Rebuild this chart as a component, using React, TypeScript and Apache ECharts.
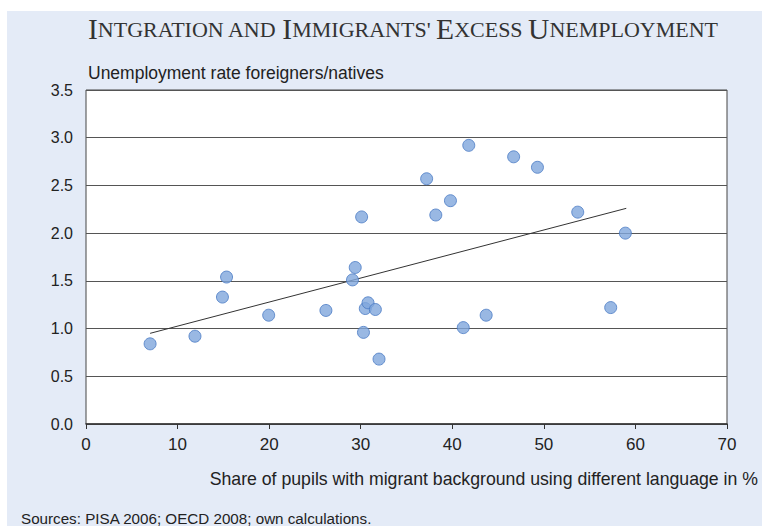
import React, { useEffect, useRef } from "react";
import * as echarts from "echarts";

const shareDifferentLanguage = [7.0, 11.9, 14.9, 15.35, 19.95, 26.2, 29.1, 29.4, 30.1, 30.3, 30.5, 30.8, 31.6, 32.0, 37.2, 38.2, 39.8, 41.2, 41.8, 43.7, 46.7, 49.3, 53.7, 57.3, 58.9];
const unemploymentRatio = [0.84, 0.92, 1.33, 1.54, 1.14, 1.19, 1.51, 1.64, 2.17, 0.96, 1.21, 1.27, 1.2, 0.68, 2.57, 2.19, 2.34, 1.01, 2.92, 1.14, 2.8, 2.69, 2.22, 1.22, 2.0];
const trendX = [7.0, 59.0];
const trendY = [0.95, 2.26];
const xTicks = [0, 10, 20, 30, 40, 50, 60, 70];
const yTicks = [0, 0.5, 1, 1.5, 2, 2.5, 3, 3.5];

const titleParts = [
  ["b", "I"], ["s", "NTGRATION AND "], ["b", "I"], ["s", "MMIGRANTS' "],
  ["b", "E"], ["s", "XCESS "], ["b", "U"], ["s", "NEMPLOYMENT"],
];
const yAxisTitle = "Unemployment rate foreigners/natives";
const xAxisTitle = "Share of pupils with migrant background using different language in %";
const sourceNote = "Sources: PISA 2006; OECD 2008; own calculations.";

export default function App() {
  const ref = useRef<HTMLDivElement>(null);
  useEffect(() => {
    if (!ref.current) return;
    const chart = echarts.init(ref.current, null, { renderer: "svg" });
    const sans = "'Liberation Sans', Arial, sans-serif";
    const serif = "'Liberation Serif', 'Times New Roman', serif";
    chart.setOption({
      animation: false,
      backgroundColor: "#ffffff",
      title: {
        text: titleParts.map(([k, t]) => `{${k}|${t}}`).join(""),
        left: 88,
        top: 14,
        padding: 0,
        textStyle: {
          fontWeight: "normal",
          rich: {
            b: { fontFamily: serif, fontSize: 29.5, fontWeight: "normal", color: "#333333" },
            s: { fontFamily: serif, fontSize: 22, fontWeight: "normal", color: "#333333" },
          },
        },
      },
      graphic: [
        {
          type: "rect",
          z: -10,
          silent: true,
          shape: { x: 7, y: 11, width: 760, height: 520 },
          style: { fill: "#E4EBF7" },
        },
        {
          type: "text",
          left: 88,
          top: 64,
          style: { text: yAxisTitle, font: `17.5px ${sans}`, fill: "#222222" },
        },
        {
          type: "text",
          right: 4,
          top: 470,
          style: { text: xAxisTitle, font: `17.7px ${sans}`, fill: "#222222" },
        },
        {
          type: "text",
          left: 21,
          top: 511,
          style: { text: sourceNote, font: `15.2px ${sans}`, fill: "#222222" },
        },
      ],
      grid: {
        left: 86,
        top: 90,
        right: 35,
        bottom: 102,
        show: true,
        backgroundColor: "#ffffff",
        borderColor: "#444444",
        borderWidth: 1,
      },
      xAxis: {
        type: "value",
        min: xTicks[0],
        max: xTicks[xTicks.length - 1],
        interval: 10,
        axisLine: { show: true, lineStyle: { color: "#333333", width: 1.5 } },
        axisTick: { show: true, length: 5, lineStyle: { color: "#333333" } },
        splitLine: { show: false },
        axisLabel: { color: "#222222", fontSize: 17, fontFamily: sans, margin: 12 },
      },
      yAxis: {
        type: "value",
        min: yTicks[0],
        max: yTicks[yTicks.length - 1],
        interval: 0.5,
        axisLine: { show: false },
        axisTick: { show: false },
        splitLine: { show: true, lineStyle: { color: "#555555", width: 1 } },
        axisLabel: {
          color: "#222222",
          fontSize: 16,
          fontFamily: sans,
          margin: 13,
          formatter: (v: number) => v.toFixed(1),
        },
      },
      series: [
        {
          type: "line",
          data: trendX.map((x, i) => [x, trendY[i]]),
          symbol: "none",
          lineStyle: { color: "#333333", width: 1 },
          z: 3,
        },
        {
          type: "scatter",
          data: shareDifferentLanguage.map((x, i) => [x, unemploymentRatio[i]]),
          symbolSize: 12,
          itemStyle: { color: "#7FA6DC", borderColor: "#4A7BC4", borderWidth: 1 },
          z: 4,
        },
      ],
    });
    return () => chart.dispose();
  }, []);
  return (
    <div
      ref={ref}
      style={{ position: "fixed", left: 0, top: 0, width: 762, height: 526 }}
    />
  );
}
